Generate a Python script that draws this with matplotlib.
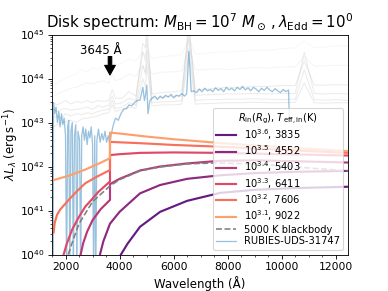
import numpy as np
import matplotlib
matplotlib.use("Agg")
import matplotlib.pyplot as plt
from matplotlib.ticker import AutoMinorLocator, LogLocator

# disk models: log10(lambda L_lambda)
labels = [r"$10^{3.6}$, 3835", r"$10^{3.5}$, 4552", r"$10^{3.4}$, 5403",
          r"$10^{3.3}$, 6411", r"$10^{3.2}$, 7606", r"$10^{3.1}$, 9022"]
cfrac = [0.3, 0.4, 0.5, 0.6, 0.7, 0.8]

w36 = [4050, 4300, 4756, 5500, 6500, 7715, 9000, 10500, 12450]
l36 = [40.0, 40.25, 40.63, 40.97, 41.22, 41.40, 41.47, 41.51, 41.54]
w35 = [3275, 3400, 3645, 4000, 4756, 5500, 6500, 7715, 9000, 10500, 12450]
l35 = [40.0, 40.3, 40.70, 40.97, 41.39, 41.58, 41.72, 41.80, 41.85, 41.88, 41.90]
w34 = [2560, 2650, 2800, 3000, 3300, 3645, 3645, 4000, 4756, 5500, 6500, 7715, 9000, 10500, 12450]
l34 = [40.0, 40.25, 40.52, 40.78, 41.03, 41.24, 41.60, 41.72, 41.91, 42.00, 42.07, 42.13, 42.14, 42.12, 42.09]
w33 = [1930, 2050, 2240, 2500, 2733, 3000, 3226, 3645, 3645, 4000, 4756, 6000, 7715, 10000, 12450]
l33 = [40.0, 40.25, 40.56, 40.86, 41.09, 41.27, 41.43, 41.66, 42.26, 42.28, 42.31, 42.32, 42.31, 42.28, 42.25]
w32 = [1560, 1600, 1685, 1800, 2117, 2425, 2733, 3165, 3645, 3645, 4000, 4756, 6000, 7715, 10000, 12450]
l32 = [40.50, 40.72, 40.90, 41.02, 41.24, 41.44, 41.62, 41.77, 41.92, 42.56, 42.55, 42.53, 42.49, 42.45, 42.38, 42.31]
w31 = [1550, 2117, 2733, 3350, 3645, 3645, 4000, 5000, 6000, 7000, 8000, 9000, 10000, 11000, 12450]
l31 = [41.69, 41.79, 41.93, 42.10, 42.19, 42.77, 42.75, 42.68, 42.62, 42.57, 42.52, 42.48, 42.44, 42.40, 42.35]
disk_w = [w36, w35, w34, w33, w32, w31]
disk_l = [l36, l35, l34, l33, l32, l31]

bb_w = [2100, 2280, 2500, 3000, 3645, 4000, 4756, 5500, 6500, 7500, 9000, 10500, 12450]
bb_l = [40.0, 40.33, 40.70, 41.20, 41.56, 41.70, 41.90, 41.99, 42.06, 42.08, 42.06, 41.99, 41.90]

# RUBIES-UDS-31747 spectrum
rub_w = [1545, 1555, 1600, 1650, 1700, 1750, 1800, 1850, 1900, 1950, 2000, 2040, 2080, 2120,
         2160, 2200, 2250, 2290, 2330, 2380, 2420, 2460, 2520, 2560, 2600, 2650, 2700, 2750,
         2800, 2850, 2900, 2950, 3000, 3040, 3080, 3120, 3160, 3220, 3280, 3340, 3400, 3460,
         3520, 3580, 3640, 3700, 3770, 3850, 3950, 4050, 4150, 4262, 4350, 4450, 4550, 4650,
         4756, 4861, 4920, 4959, 5007, 5050, 5120, 5200, 5300, 5400, 5500, 5600, 5700, 5800,
         5900, 6000, 6100, 6200, 6300, 6400, 6480, 6563, 6650, 6730, 6850, 6950, 7050, 7150,
         7250, 7350, 7450, 7550, 7650, 7750, 7850, 7950, 8050, 8150, 8250, 8350, 8450, 8550,
         8650, 8750, 8850, 8950, 9050, 9150, 9250, 9350, 9450, 9550, 9650, 9750, 9850, 9950,
         10050, 10150, 10250, 10280]
rub_l = [39.5, 43.45, 43.2, 43.35, 43.0, 43.25, 42.9, 43.2, 42.95, 43.1, 42.7, 39.5, 42.9, 43.05,
         39.5, 42.8, 43.0, 39.5, 42.7, 42.95, 39.5, 42.8, 42.6, 39.5, 42.7, 42.9, 42.6, 42.85,
         42.5, 42.8, 42.65, 42.9, 42.5, 39.5, 42.7, 39.5, 42.6, 42.85, 42.55, 42.75, 42.6, 42.8,
         42.55, 42.7, 42.5, 42.75, 42.95, 43.1, 43.05, 43.2, 43.3, 43.32, 43.4, 43.38, 43.45, 43.5,
         43.51, 43.8, 43.5, 43.62, 43.85, 43.2, 43.5, 43.55, 43.6, 43.52, 43.6, 43.55, 43.62, 43.58,
         43.64, 43.56, 43.62, 43.6, 43.66, 43.6, 43.65, 44.62, 43.7, 43.72, 43.68, 43.76, 43.7, 43.78,
         43.72, 43.75, 43.7, 43.79, 43.73, 43.77, 43.7, 43.8, 43.74, 43.78, 43.72, 43.8, 43.75, 43.82,
         43.74, 43.79, 43.72, 43.8, 43.76, 43.7, 43.78, 43.73, 43.8, 43.74, 43.7, 43.77, 43.72, 43.68,
         43.75, 43.7, 43.74, 43.05]

# comparison spectra (gray), common wavelength grid
gray_w = [1550, 1700, 1850, 2000, 2200, 2400, 2600, 2800, 3000, 3200, 3400, 3600, 3727, 3850,
          4100, 4340, 4600, 4861, 4959, 5007, 5200, 5600, 6000, 6300, 6563, 6800, 7200, 7600,
          8000, 8500, 9000, 9500, 10000, 10500, 10830, 11200, 11600, 12000, 12450]
gray_a = [43.85, 43.9, 43.95, 44.0, 44.05, 44.1, 44.2, 44.15, 44.25, 44.2, 44.3, 44.28, 44.4, 44.3,
          44.35, 44.45, 44.4, 44.6, 44.5, 44.65, 44.45, 44.5, 44.52, 44.55, 44.9, 44.55, 44.57, 44.6,
          44.6, 44.62, 44.65, 44.64, 44.68, 44.7, 44.85, 44.7, 44.72, 44.74, 44.75]
gray_b = [43.6, 43.65, 43.7, 43.72, 43.78, 43.8, 43.85, 43.9, 43.88, 43.92, 43.95, 43.9, 44.1, 43.95,
          44.0, 44.1, 44.05, 44.3, 44.15, 44.4, 44.1, 44.15, 44.15, 44.18, 44.7, 44.2, 44.2, 44.22,
          44.2, 44.23, 44.25, 44.24, 44.26, 44.27, 44.5, 44.28, 44.29, 44.3, 44.3]
gray_c = [43.45, 43.4, 43.45, 43.5, 43.42, 43.48, 43.45, 43.5, 43.45, 43.5, 43.48, 43.5, 43.75, 43.55,
          43.55, 43.7, 43.6, 44.6, 44.4, 44.9, 43.65, 43.68, 43.7, 43.72, 45.1, 43.74, 43.76, 43.78,
          43.8, 43.8, 43.82, 43.82, 43.84, 43.84, 44.4, 43.85, 43.85, 43.86, 43.85]
gray_d = [43.3, 43.25, 43.3, 43.32, 43.28, 43.3, 43.32, 43.35, 43.3, 43.38, 43.35, 43.4, 43.6, 43.42,
          43.45, 43.55, 43.5, 44.8, 44.7, 45.2, 43.55, 43.58, 43.6, 43.6, 45.3, 43.62, 43.63, 43.64,
          43.65, 43.65, 43.66, 43.65, 43.66, 43.66, 44.6, 43.66, 43.65, 43.66, 43.65]
gray_e = [43.1, 43.15, 43.1, 43.2, 43.15, 43.2, 43.18, 43.22, 43.2, 43.25, 43.28, 43.3, 43.5, 43.32,
          43.35, 43.45, 43.4, 44.3, 44.1, 44.6, 43.45, 43.47, 43.48, 43.5, 44.9, 43.5, 43.52, 43.52,
          43.53, 43.53, 43.54, 43.53, 43.52, 43.53, 44.2, 43.52, 43.51, 43.52, 43.5]
gray_f = [42.9, 42.95, 43.0, 43.02, 43.05, 43.0, 43.08, 43.1, 43.12, 43.15, 43.2, 43.22, 43.4, 43.25,
          43.3, 43.35, 43.32, 44.0, 43.8, 44.3, 43.38, 43.4, 43.4, 43.42, 44.6, 43.42, 43.43, 43.44,
          43.45, 43.45, 43.46, 43.45, 43.45, 43.46, 43.9, 43.45, 43.44, 43.45, 43.45]
gray_all = [gray_a, gray_b, gray_c, gray_d, gray_e, gray_f]
gray_alpha = [0.06, 0.08, 0.15, 0.15, 0.15, 0.15]

fig = plt.figure(figsize=(388 / 77, 291 / 77), dpi=77)
ax = fig.add_axes([0.134, 0.1254, 0.763, 0.756])

for g, a in zip(gray_all, gray_alpha):
    ax.plot(gray_w, 10**np.array(g), color="gray", lw=1, alpha=a)

rub, = ax.plot(rub_w, 10**np.array(rub_l), color="tab:blue", lw=1.2, alpha=0.45,
               label="RUBIES-UDS-31747")

cmap = plt.get_cmap("magma")
lines = []
for w, l, lab, c in zip(disk_w, disk_l, labels, cfrac):
    ln, = ax.plot(w, 10**np.array(l), color=cmap(c), lw=2, label=lab)
    lines.append(ln)
bb, = ax.plot(bb_w, 10**np.array(bb_l), color="gray", ls="--", lw=1.5, label="5000 K blackbody")

ax.text(3300, 10**44.63, "3645 Å", ha="center", va="center", fontsize=11)
ax.annotate("", xy=(3645, 10**44.08), xytext=(3645, 10**44.5),
            arrowprops=dict(facecolor="black", edgecolor="black", width=3.3, headwidth=10, headlength=9))

ax.set_yscale("log")
ax.set_xlim(1500, 12450)
ax.set_ylim(1e40, 1e45)
ax.xaxis.set_minor_locator(AutoMinorLocator(4))
ax.yaxis.set_major_locator(LogLocator(base=10, numticks=10))
ax.tick_params(labelsize=10)
ax.set_xlabel("Wavelength (Å)", fontsize=11)
ax.set_ylabel(r"$\lambda L_\lambda$ (erg$\,$s$^{-1}$)", fontsize=11, labelpad=-1.5)
ax.set_title(r"Disk spectrum: $M_{\rm BH}=10^7\ M_\odot\,,\lambda_{\rm Edd}=10^0$", fontsize=14)

ax.legend(handles=lines + [bb, rub], loc="lower right", fontsize=9.2,
          title=r"$R_{\rm in}(R_{\rm g})$, $T_{\rm eff,in}$(K)", title_fontsize=9.2,
          labelspacing=0.15, handlelength=2.0, borderpad=0.35)

fig.savefig("out.png", dpi=77)
